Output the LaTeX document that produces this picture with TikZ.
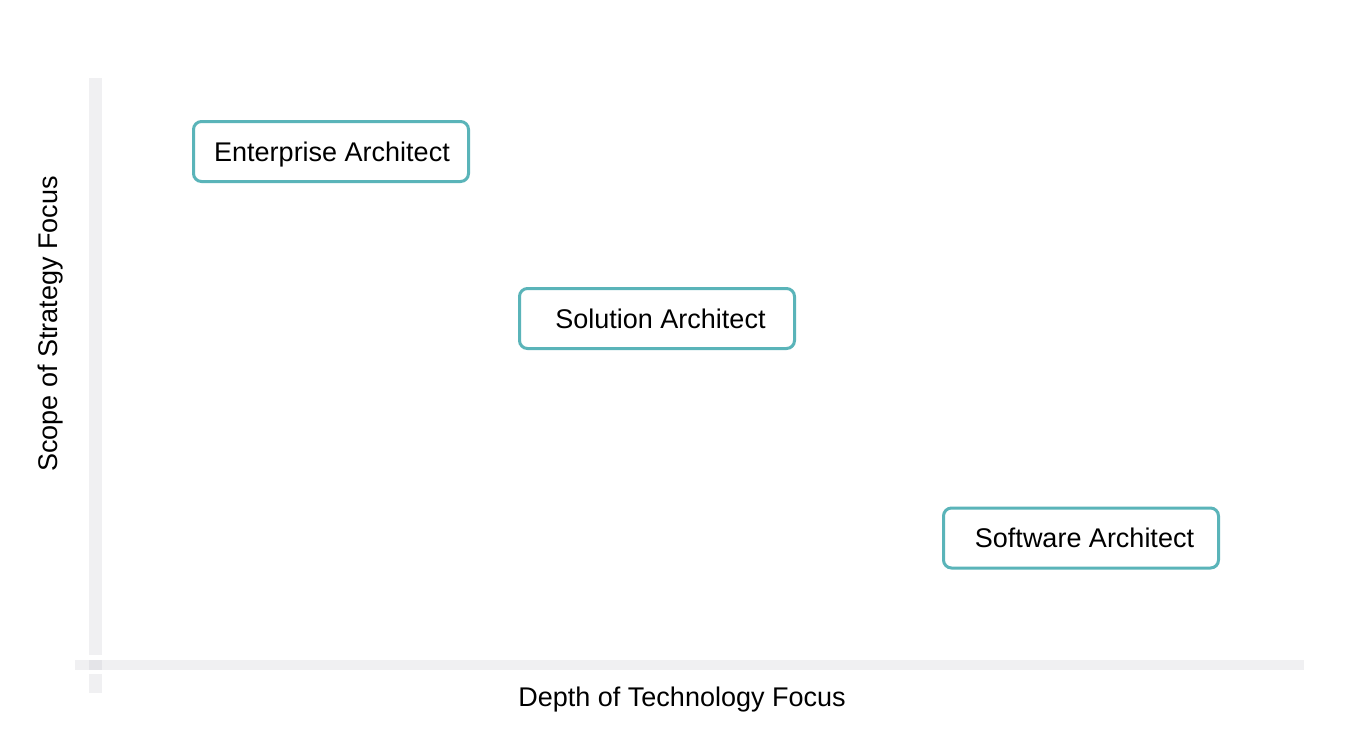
\documentclass[tikz,border=0pt]{standalone}
\usepackage{fontspec}
\setmainfont{Liberation Sans}
\definecolor{teal1}{HTML}{5AB4B9}
\definecolor{axisgray}{HTML}{F0F0F2}
\definecolor{axisdark}{HTML}{E4E4E8}
\begin{document}
\begin{tikzpicture}[x=1pt,y=-1pt,
  rolebox/.style={draw=teal1,line width=3pt,rounded corners=8pt,fill=white,
    minimum width=275pt,minimum height=60pt,inner sep=0pt,
    text height=21pt,text depth=2pt,
    font=\fontsize{27}{32}\selectfont},
  axislabel/.style={font=\fontsize{27}{32}\selectfont,inner sep=0pt,anchor=base}]
\useasboundingbox[fill=white] (0,0) rectangle (1346,740);
% axes
\fill[axisgray] (89,78) rectangle (102,655);
\fill[axisgray] (89,674) rectangle (102,693);
\fill[axisgray] (75,660) rectangle (1304,670);
\fill[axisdark] (89,660) rectangle (102,670);
% boxes
\node[rolebox] (ea) at (331,151.5) {\hspace{2pt}Enterprise Architect};
\node[rolebox] (sa) at (657,318.5) {\hspace{7pt}Solution Architect};
\node[rolebox] (sw) at (1081,538) {\hspace{7pt}Software Architect};
% labels
\node[axislabel] (xl) at (682,706) {Depth of Technology Focus};
\node[axislabel,rotate=90] (yl) at (57,324) {Scope of Strategy Focus};
\end{tikzpicture}
\end{document}
